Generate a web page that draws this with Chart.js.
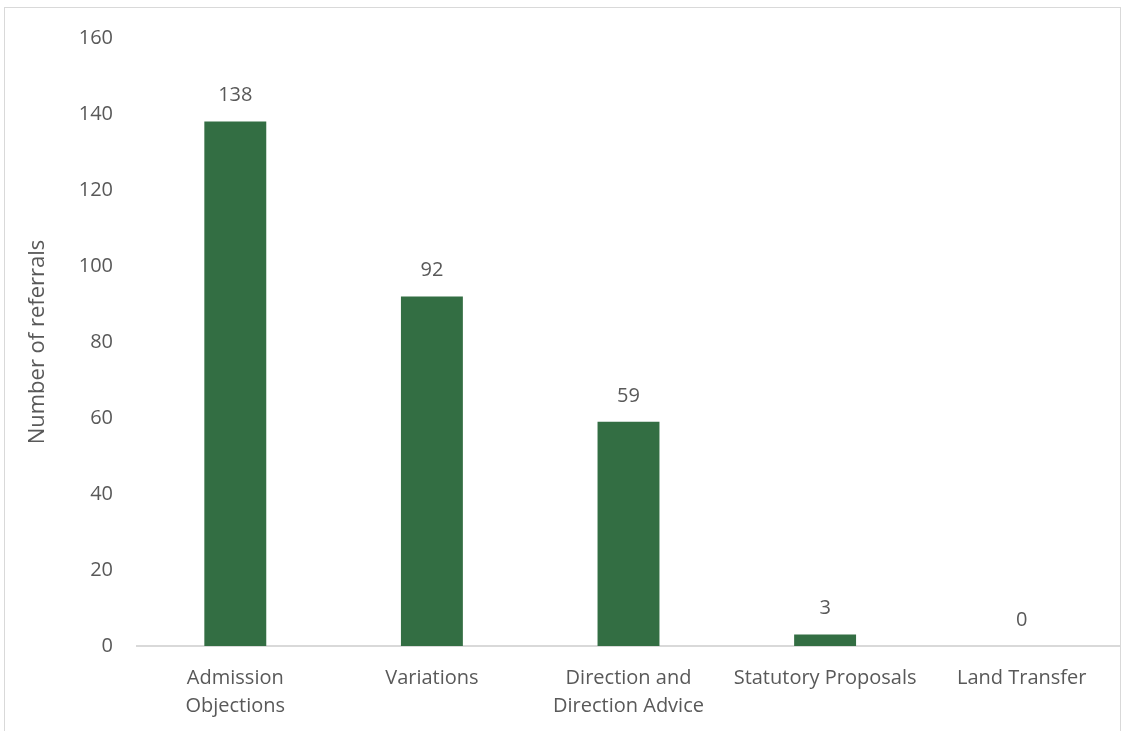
<!DOCTYPE html>
<html>
<head>
<meta charset="utf-8">
<script src="https://cdn.jsdelivr.net/npm/chart.js@4"></script>
<style>
  body { margin: 0; background: #fff; overflow: hidden; }
  #wrap { position: absolute; left: 4px; top: 7px; width: 1117px; height: 730px; border: 1px solid #d9d9d9; box-sizing: border-box; }
  canvas { display: block; }
</style>
</head>
<body>
<div id="wrap"><canvas id="referralChart"></canvas></div>
<script>
const categories = [['Admission', 'Objections'], 'Variations', ['Direction and', 'Direction Advice'], 'Statutory Proposals', 'Land Transfer'];
const referrals = [138, 92, 59, 3, 0];
const yTicks = [0, 20, 40, 60, 80, 100, 120, 140, 160];

const textColor = '#595959';
const fontFamily = "'Open Sans', 'Noto Sans', sans-serif";

// draw the value above each bar
const valueLabels = {
  id: 'valueLabels',
  afterDatasetsDraw(chart) {
    const ctx = chart.ctx;
    const meta = chart.getDatasetMeta(0);
    ctx.save();
    ctx.fillStyle = textColor;
    ctx.font = '20px ' + fontFamily;
    ctx.textAlign = 'center';
    ctx.textBaseline = 'middle';
    meta.data.forEach(function (bar, i) {
      ctx.fillText(referrals[i], bar.x, bar.y - 26);
    });
    ctx.restore();
  }
};

const ctx = document.getElementById('referralChart').getContext('2d');
new Chart(ctx, {
  type: 'bar',
  data: {
    labels: categories,
    datasets: [{
      label: 'Number of referrals',
      data: referrals,
      backgroundColor: '#336e43',
      borderWidth: 0,
      barPercentage: 0.315,
      categoryPercentage: 1
    }]
  },
  options: {
    responsive: true,
    maintainAspectRatio: false,
    animation: false,
    layout: { padding: { top: 30, right: 0, left: 0, bottom: 0 } },
    plugins: {
      legend: { display: false },
      tooltip: { enabled: false }
    },
    scales: {
      x: {
        afterFit: function (axis) {
          axis.height = 90;
          axis.paddingTop = 0;
          axis.paddingBottom = 0;
        },
        grid: { display: false, drawTicks: false },
        border: { color: '#d9d9d9', width: 2 },
        ticks: {
          color: textColor,
          font: { size: 20, family: fontFamily, lineHeight: 1.4 },
          padding: 18,
          maxRotation: 0,
          autoSkip: false
        }
      },
      y: {
        min: 0,
        max: 160,
        afterBuildTicks: function (axis) {
          axis.ticks = yTicks.map(function (v) { return { value: v }; });
        },
        afterFit: function (axis) {
          axis.width = 132;
          axis.paddingTop = 0;
          axis.paddingBottom = 0;
        },
        grid: { display: false, drawTicks: false },
        border: { display: false },
        ticks: {
          color: textColor,
          font: { size: 20, family: fontFamily },
          padding: 24
        },
        title: {
          display: true,
          text: 'Number of referrals',
          color: textColor,
          font: { size: 22, family: fontFamily },
          padding: { top: 20, bottom: 0 }
        }
      }
    }
  },
  plugins: [valueLabels]
});
</script>
</body>
</html>
